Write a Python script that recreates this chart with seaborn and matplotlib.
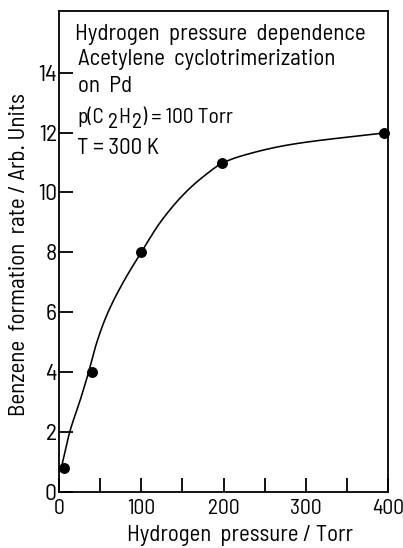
import matplotlib
matplotlib.use("Agg")
import matplotlib.pyplot as plt
from matplotlib.ticker import MultipleLocator
import seaborn as sns
import pandas as pd
import numpy as np

# Measured benzene formation rate vs. hydrogen pressure
h2_pressure = [6, 40, 100, 198, 395]
rate = [0.8, 4.0, 8.0, 11.0, 12.0]

# Hand-drawn guide curve through the measurements
curve_pressure = [4, 13, 25, 36, 46, 58, 78, 100, 123, 153, 175, 200, 236, 277, 317, 358, 393]
curve_rate = [0.95, 2.0, 3.0, 4.0, 5.0, 5.9, 7.0, 8.0, 9.0, 9.98, 10.52, 11.0, 11.33, 11.58, 11.74, 11.87, 11.98]

x_ticks = [0, 100, 200, 300, 400]
y_ticks = [0, 2, 4, 6, 8, 10, 12, 14]

header_lines = [
    "Hydrogen  pressure  dependence",
    "Acetylene  cyclotrimerization",
    "on  Pd",
]
pressure_pieces = ["p(C", "2", "H", "2", ") = 100 Torr"]
temperature_line = "T = 300 K"

FONT = ["Barlow Semi Condensed", "DejaVu Sans"]


def smooth_curve(x, y, n=300):
    """Monotone cubic (Fritsch-Carlson) smoothing of a hand-drawn guide line."""
    x = np.asarray(x, float)
    y = np.asarray(y, float)
    h = np.diff(x)
    d = np.diff(y) / h
    m = np.zeros_like(y)
    m[0], m[-1] = d[0], d[-1]
    for k in range(1, len(x) - 1):
        if d[k - 1] * d[k] > 0:
            w1 = 2 * h[k] + h[k - 1]
            w2 = h[k] + 2 * h[k - 1]
            m[k] = (w1 + w2) / (w1 / d[k - 1] + w2 / d[k])
    xs = np.linspace(x[0], x[-1], n)
    idx = np.clip(np.searchsorted(x, xs) - 1, 0, len(x) - 2)
    t = (xs - x[idx]) / h[idx]
    h00 = 2 * t**3 - 3 * t**2 + 1
    h10 = t**3 - 2 * t**2 + t
    h01 = -2 * t**3 + 3 * t**2
    h11 = t**3 - t**2
    ys = (h00 * y[idx] + h10 * h[idx] * m[idx]
          + h01 * y[idx + 1] + h11 * h[idx] * m[idx + 1])
    return xs, ys


sns.set_style("ticks")
plt.rcParams["font.family"] = FONT
plt.rcParams["text.color"] = "black"
plt.rcParams["axes.labelcolor"] = "black"

W, H = 403, 548
fig = plt.figure(figsize=(W / 100, H / 100), dpi=100)
ax = fig.add_axes([59 / W, 1 - 492 / H, 329 / W, 481 / H])

points = pd.DataFrame({"p": h2_pressure, "r": rate})
gx, gy = smooth_curve(curve_pressure, curve_rate)
guide = pd.DataFrame({"p": gx, "r": gy})

sns.lineplot(data=guide, x="p", y="r", ax=ax, color="black", linewidth=1.15,
             sort=False, estimator=None)
sns.scatterplot(data=points, x="p", y="r", ax=ax, color="black", s=62,
                edgecolor="black", linewidth=0, zorder=5, clip_on=False)

ax.set_xlim(0, 400)
ax.set_ylim(0, 16.06)
ax.set_xticks(x_ticks)
ax.set_yticks(y_ticks)
ax.xaxis.set_minor_locator(MultipleLocator(50))

for side in ax.spines.values():
    side.set_linewidth(1.3)
    side.set_color("black")
    side.set_visible(True)

ax.tick_params(axis="both", which="both", direction="in", length=10,
               width=1.3, color="black", labelcolor="black")
ax.tick_params(axis="x", which="both", top=False, pad=5, labelsize=15.5)
ax.tick_params(axis="y", which="both", right=False, pad=1.5, labelsize=17)

ax.set_xlabel("Hydrogen  pressure / Torr", fontsize=16.4, va="baseline")
ax.xaxis.set_label_coords((240 - 59) / 329, (492 - 541) / 481)
ax.set_ylabel("Benzene  formation  rate / Arb. Units", fontsize=16.5, va="baseline")
ax.yaxis.set_label_coords((25 - 59) / 329, (492 - 255) / 481)


def fig_px(x, y_from_top):
    return x / W, 1 - y_from_top / H


# Header block in the upper left of the frame
for line, (x0, base) in zip(header_lines, [(75, 40), (78, 65), (78, 91.5)]):
    fig.text(*fig_px(x0, base), line, fontsize=16.5, va="baseline", ha="left")

# p(C2H2) line: the subscripts are full-size digits set a few pixels lower
drops = [0, 5, 0, 5, 0]
gaps = [0, 4, 1, 1, 1]
pieces = [fig.text(*fig_px(77, 123), p, fontsize=15.4, va="baseline", ha="left")
          for p in pressure_pieces]
fig.canvas.draw()
renderer = fig.canvas.get_renderer()
cursor = pieces[0].get_window_extent(renderer).x1
for t, drop, gap in zip(pieces[1:], drops[1:], gaps[1:]):
    t.set_position(((cursor + gap) / W, 1 - (123 + drop) / H))
    cursor = t.get_window_extent(renderer).x1

fig.text(*fig_px(77, 154), temperature_line, fontsize=16.5, va="baseline", ha="left")

fig.savefig("out.png", dpi=100)
